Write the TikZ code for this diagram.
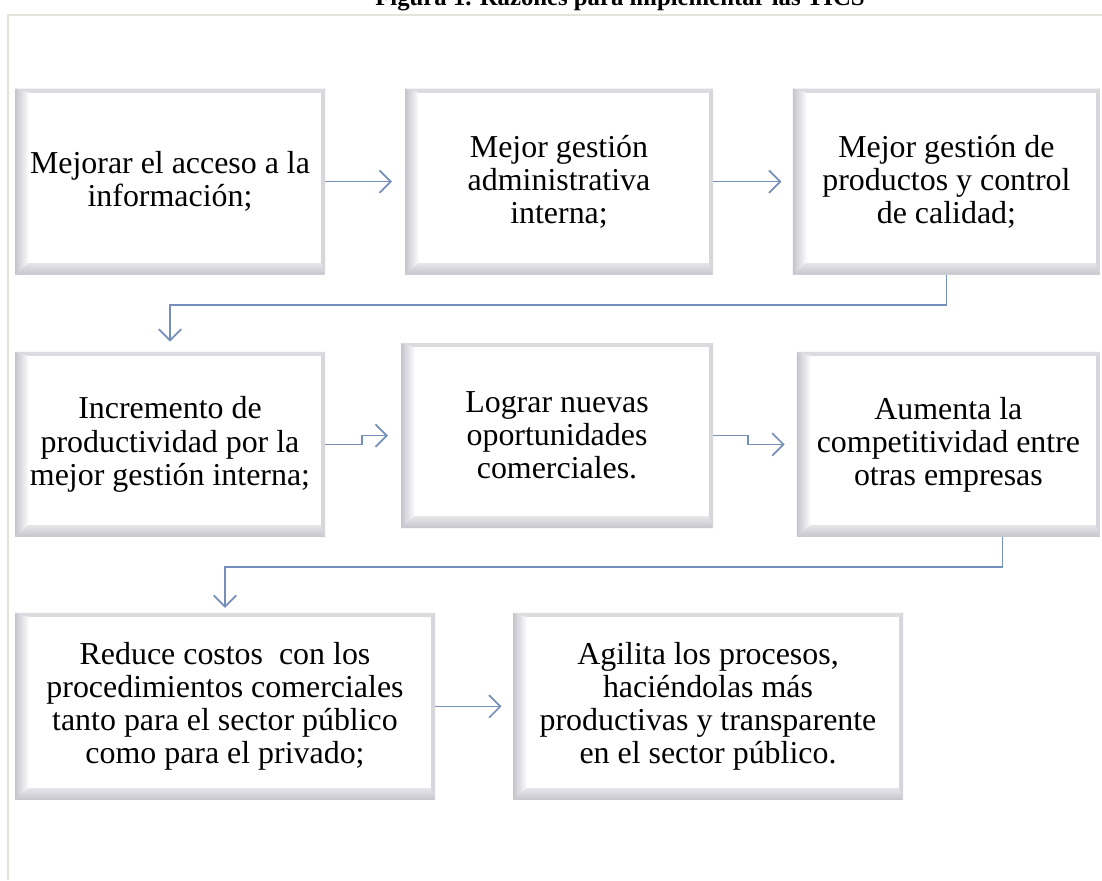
\documentclass[tikz,border=0pt]{standalone}
\usepackage{fontspec}
\setmainfont{Liberation Serif}
\usetikzlibrary{arrows.meta}

\definecolor{connblue}{RGB}{118,143,186}
\definecolor{bevelgray}{RGB}{196,196,204}
\definecolor{framegray}{RGB}{228,228,218}

\tikzset{
  bevel/.style 2 args={
    minimum width=#1cm, minimum height=#2cm, inner sep=0pt, align=center,
    font=\fontsize{22.7}{23.5}\selectfont,
    fill=bevelgray!55,
    path picture={
      \path (path picture bounding box.north west) coordinate (pnw)
            (path picture bounding box.south east) coordinate (pse)
            (path picture bounding box.north east) coordinate (pne)
            (path picture bounding box.south west) coordinate (psw);
      \path ([shift={(0.35,-0.1)}]pnw) coordinate (inw)
            ([shift={(-0.1,0.3)}]pse) coordinate (ise)
            (inw |- ise) coordinate (isw)
            (ise |- inw) coordinate (ine);
      \shade[left color=bevelgray, right color=white] (pnw) -- (inw) -- (isw) -- (psw) -- cycle;
      \shade[top color=bevelgray!40, bottom color=bevelgray] (psw) -- (isw) -- (ise) -- (pse) -- cycle;
      \fill[bevelgray!70] (pne) -- (ine) -- (ise) -- (pse) -- cycle;
      \fill[bevelgray!60] (pnw) -- (inw) -- (ine) -- (pne) -- cycle;
      \fill[white] (inw) rectangle (ise);
    }
  },
  conn/.style={draw=connblue, line width=1.2pt, -{Straight Barb[length=8pt,width=16pt]}}
}

\begin{document}
\begin{tikzpicture}
  \useasboundingbox (0,0) rectangle (27.55,22);
  \fill[white] (0,0) rectangle (27.55,22);
  % Page frame and cut title.
  \draw[framegray, line width=1.2pt] (0.2,0) -- (0.2,21.625) -- (27.55,21.625);
  \node[font=\bfseries\fontsize{17.6}{20}\selectfont, anchor=base] (titulo) at (15.5,21.86)
    {Figura 1. Razones para implementar las TICS};
  % First row.
  \node[bevel={7.75}{4.65}]  (acceso)  at (4.25,17.46)   {Mejorar el acceso a la\\información;};
  \node[bevel={7.7}{4.65}]   (admin)   at (13.975,17.46) {Mejor gestión\\administrativa\\interna;};
  \node[bevel={7.675}{4.65}] (calidad) at (23.66,17.46)  {Mejor gestión de\\productos y control\\de calidad;};
  % Second row.
  \node[bevel={7.75}{4.625}]  (producti) at (4.25,10.89)   {Incremento de\\productividad por la\\mejor gestión interna;};
  \node[bevel={7.8}{4.625}]   (oportun)  at (13.925,11.11) {Lograr nuevas\\oportunidades\\comerciales.};
  \node[bevel={7.575}{4.625}] (compet)   at (23.71,10.89)  {Aumenta la\\competitividad entre\\otras empresas};
  % Third row.
  \node[bevel={10.5}{4.675}] (costos)  at (5.625,4.34) {Reduce costos\ \ con los\\procedimientos comerciales\\tanto para el sector público\\como para el privado;};
  \node[bevel={9.75}{4.675}] (agilita) at (17.7,4.34)  {Agilita los procesos,\\haciéndolas más\\productivas y transparente\\en el sector público.};
  % Connectors.
  \draw[conn, shorten >=0.32cm] (acceso) -- (admin);
  \draw[conn, shorten >=0.28cm] (admin) -- (calidad);
  \draw[conn, shorten >=0.25cm] (calidad.south) -- ++(0,-0.75) -| (producti.north);
  \draw[conn, shorten >=0.32cm] (producti.east) -- ++(0.92,0) |- (oportun.west);
  \draw[conn, shorten >=0.3cm]  (oportun.east) -- ++(0.87,0) |- (compet.west);
  \draw[conn, shorten >=0.12cm] ([xshift=1.35cm]compet.south) -- ++(0,-0.75) -| (costos.north);
  \draw[conn, shorten >=0.28cm] (costos) -- (agilita);
\end{tikzpicture}
\end{document}
